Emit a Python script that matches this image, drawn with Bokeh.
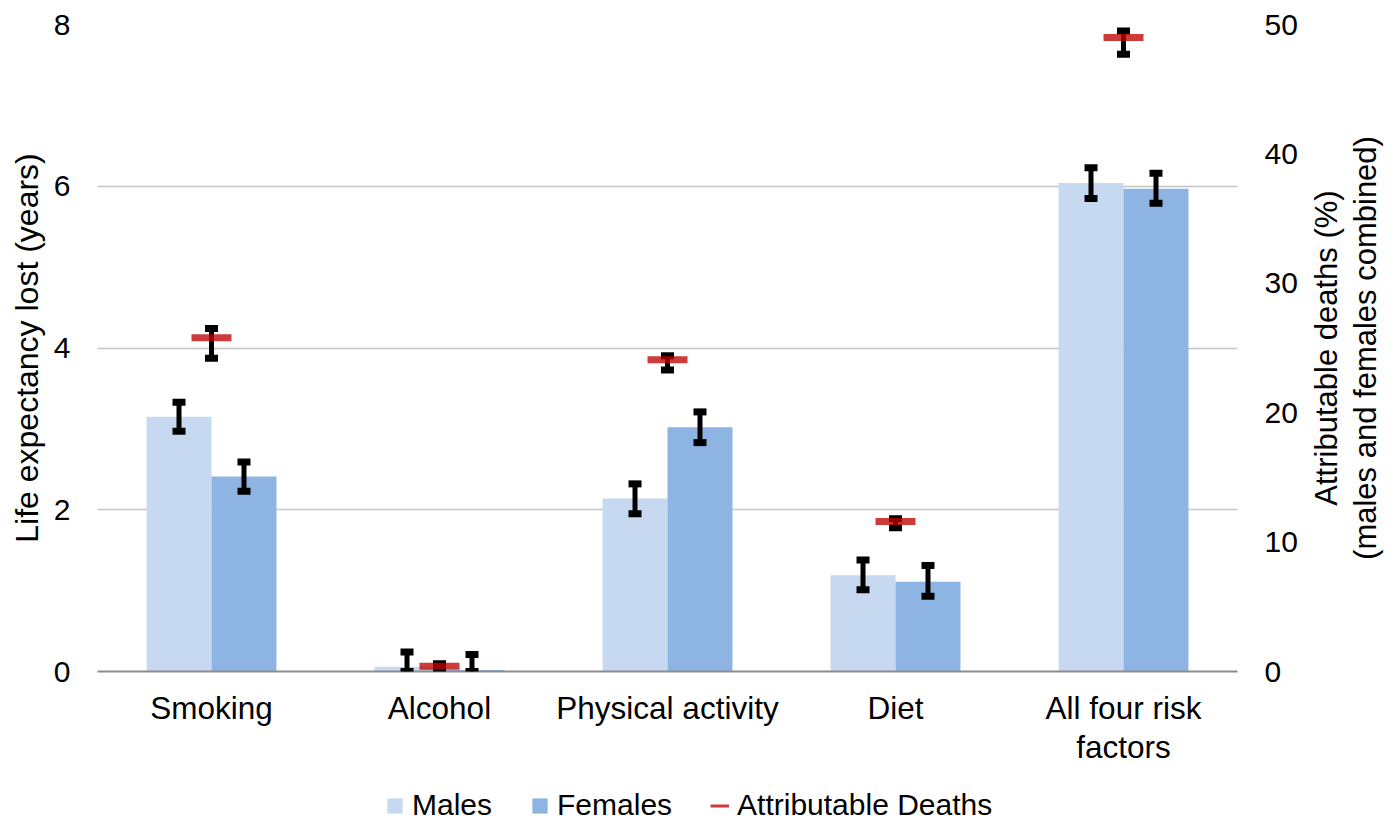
import math
from bokeh.plotting import figure
from bokeh.layouts import column, row
from bokeh.models import (Range1d, LinearAxis, FixedTicker, ColumnDataSource, Whisker,
                          TeeHead, Legend, LegendItem)
from bokeh.embed import file_html
from bokeh.resources import INLINE

categories = ["Smoking", "Alcohol", "Physical activity", "Diet", "All four risk\nfactors"]
males = [3.15, 0.06, 2.14, 1.19, 6.04]
males_lower = [2.97, 0.0, 1.95, 1.01, 5.85]
males_upper = [3.33, 0.24, 2.32, 1.38, 6.23]
females = [2.41, 0.02, 3.02, 1.11, 5.97]
females_lower = [2.23, 0.0, 2.83, 0.93, 5.79]
females_upper = [2.59, 0.21, 3.21, 1.31, 6.16]
deaths = [25.8, 0.4, 24.1, 11.6, 49.0]
deaths_lower = [24.2, 0.2, 23.3, 11.1, 47.7]
deaths_upper = [26.5, 0.6, 24.4, 11.8, 49.5]
left_ticks = [0, 2, 4, 6, 8]
right_ticks = [0, 10, 20, 30, 40, 50]
series_names = ["Males", "Females", "Attributable Deaths"]
left_title = "Life expectancy lost (years)"
right_title = "Attributable deaths (%)\n(males and females combined)"

FONT = "Liberation Sans"
C_M, C_F, C_D = "#c6d9f0", "#8eb4e3", "#be0000"
BAR_W = 0.285
idx = list(range(len(categories)))

src_m = ColumnDataSource(dict(x=[i - BAR_W / 2 for i in idx], top=males, lower=males_lower, upper=males_upper))
src_f = ColumnDataSource(dict(x=[i + BAR_W / 2 for i in idx], top=females, lower=females_lower, upper=females_upper))
src_d = ColumnDataSource(dict(x=idx, y=deaths, lower=deaths_lower, upper=deaths_upper))

p = figure(width=1300, height=768, output_backend="svg", toolbar_location=None,
           x_range=Range1d(-0.5, len(categories) - 0.5), y_range=Range1d(0, 8),
           min_border_left=97, min_border_right=63, min_border_top=24, min_border_bottom=97)
p.outline_line_color = None
p.extra_y_ranges = {"pct": Range1d(0, 50)}

p.vbar(x="x", top="top", width=BAR_W, source=src_m, fill_color=C_M, line_color=None)
p.vbar(x="x", top="top", width=BAR_W, source=src_f, fill_color=C_F, line_color=None)

for s, rng in ((src_m, "default"), (src_f, "default"), (src_d, "pct")):
    w = Whisker(source=s, base="x", lower="lower", upper="upper", dimension="height",
                line_color="black", line_width=5, y_range_name=rng, level="annotation",
                upper_head=TeeHead(size=13, line_width=7, line_color="black"),
                lower_head=TeeHead(size=13, line_width=7, line_color="black"))
    p.add_layout(w)

p.scatter(x="x", y="y", source=src_d, marker="dash", size=40, line_width=7,
          line_color=C_D, line_alpha=0.77, y_range_name="pct", level="overlay")

# axes
xa = p.xaxis[0]
xa.ticker = FixedTicker(ticks=idx)
xa.major_label_overrides = {i: c for i, c in zip(idx, categories)}
xa.major_tick_line_color = None
xa.major_tick_out = 0
xa.major_tick_in = 0
xa.minor_tick_line_color = None
xa.axis_line_color = "#8c8c8c"
xa.axis_line_width = 2
xa.major_label_standoff = 18
xa.major_label_text_font = FONT
xa.major_label_text_font_size = "31.5px"
xa.major_label_text_line_height = 1.1
xa.major_label_text_color = "black"

ya = p.yaxis[0]
ya.ticker = FixedTicker(ticks=left_ticks)
ya.axis_line_color = None
ya.major_tick_line_color = None
ya.major_tick_out = 0
ya.major_tick_in = 0
ya.minor_tick_line_color = None
ya.major_label_standoff = 27
ya.major_label_text_font = FONT
ya.major_label_text_font_size = "30px"
ya.major_label_text_color = "black"
ya.axis_label = left_title
ya.axis_label_text_font = FONT
ya.axis_label_text_font_size = "32px"
ya.axis_label_text_font_style = "normal"
ya.axis_label_text_color = "black"
ya.axis_label_standoff = 6

ra = LinearAxis(y_range_name="pct", ticker=FixedTicker(ticks=right_ticks))
ra.axis_line_color = None
ra.major_tick_line_color = None
ra.major_tick_out = 0
ra.major_tick_in = 0
ra.minor_tick_line_color = None
ra.major_label_standoff = 27
ra.major_label_text_font = FONT
ra.major_label_text_font_size = "30px"
ra.major_label_text_color = "black"
p.add_layout(ra, "right")

p.xgrid.visible = False
p.ygrid.ticker = FixedTicker(ticks=left_ticks)
p.ygrid.grid_line_color = "#c4c4c4"
p.ygrid.grid_line_width = 1.5

# right-hand axis title, reading bottom to top
r = figure(width=94, height=768, output_backend="svg", toolbar_location=None,
           x_range=Range1d(0, 1), y_range=Range1d(0, 1), x_axis_type=None, y_axis_type=None,
           min_border=0)
r.outline_line_color = None
r.grid.visible = False
r.text(x=[0.48], y=[0.5], text=[right_title], angle=math.pi / 2,
       text_align="center", text_baseline="middle", text_line_height=1.12,
       text_font={"value": FONT}, text_font_size={"value": "31px"}, text_color="black")

# legend strip below the chart
q = figure(width=1394, height=52, output_backend="svg", toolbar_location=None,
           x_range=Range1d(0, 1), y_range=Range1d(100, 101), x_axis_type=None, y_axis_type=None,
           min_border=0)
q.outline_line_color = None
q.grid.visible = False
lm = q.vbar(x="x", top="top", width=BAR_W, source=src_m, fill_color=C_M, line_color=None)
lf = q.vbar(x="x", top="top", width=BAR_W, source=src_f, fill_color=C_F, line_color=None)
ld = q.line(x="x", y="y", source=src_d, line_color=C_D, line_alpha=0.77, line_width=3)
legend = Legend(items=[LegendItem(label=series_names[0], renderers=[lm]),
                       LegendItem(label=series_names[1], renderers=[lf]),
                       LegendItem(label=series_names[2], renderers=[ld])],
                orientation="horizontal", location=(385, -2),
                border_line_color=None, background_fill_alpha=0,
                padding=0, margin=0, spacing=38, label_standoff=8,
                glyph_width=19, glyph_height=19,
                label_text_font=FONT, label_text_font_size="30px", label_text_color="black")
q.add_layout(legend, "center")

page = column(row(p, r, spacing=0), q, spacing=0)
open("out.html", "w").write(file_html(page, INLINE))
